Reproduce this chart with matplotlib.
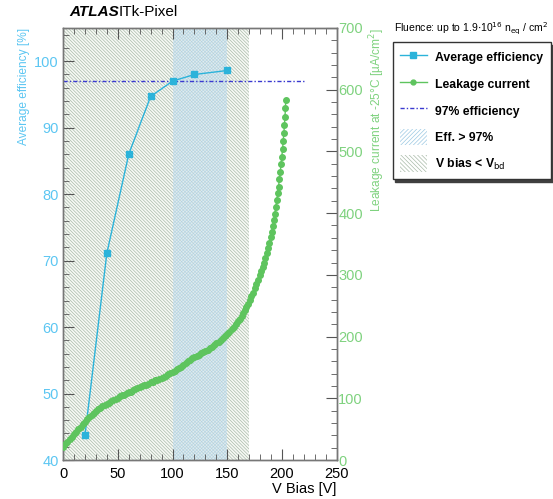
import numpy as np
import matplotlib
matplotlib.use("Agg")
import matplotlib.pyplot as plt
from matplotlib.patches import Patch
from matplotlib.lines import Line2D
from matplotlib.ticker import MultipleLocator

plt.rcParams['font.family'] = ['Liberation Sans', 'DejaVu Sans']
plt.rcParams['hatch.linewidth'] = 0.5

# average efficiency vs bias
eff_v = [20, 40, 60, 80, 100, 120, 150]
eff = [43.7, 71.1, 86.0, 94.7, 97.0, 98.0, 98.6]

# leakage current vs bias
leak_v = [0, 2, 4, 6, 8, 10, 12, 14, 16, 18, 20, 22, 24, 26, 28, 30, 32, 34, 36, 38,
          40, 42, 44, 46, 48, 50, 52, 54, 56, 58, 60, 62, 64, 66, 68, 70, 72, 74, 76, 78,
          80, 82, 84, 86, 88, 90, 92, 94, 96, 98, 100, 102, 104, 106, 108, 110, 112, 114, 116, 118,
          120, 122, 124, 126, 128, 130, 132, 134, 136, 138, 140, 142, 144, 146, 148, 150, 152, 154, 156, 158,
          160, 161.5, 163, 164.5, 166, 167.5, 169, 170.5, 172, 173.5, 175, 176.5, 178, 179.5, 181, 182.3, 183.6, 184.9, 186.1, 187.3,
          188.4, 189.5, 190.5, 191.5, 192.5, 193.4, 194.3, 195.2, 196.0, 196.8, 197.6, 198.4, 199.1, 199.8, 200.5, 201.1, 201.7, 202.2, 202.7, 203.1,
          203.4]
leak_i = [21, 26, 30, 34, 38, 42, 46, 50, 54, 58, 62, 66, 70, 73, 76, 79, 82, 85, 87, 89,
          91, 93, 95, 97, 99, 101, 103, 105, 106, 108, 110, 111, 113, 115, 116, 118, 120, 121, 122, 124,
          126, 127, 129, 130, 132, 133, 135, 137, 139, 141, 143, 145, 147, 149, 151, 154, 157, 160, 162, 165,
          167, 169, 171, 173, 175, 177, 179, 181, 183, 186, 189, 192, 195, 198, 201, 204, 208, 212, 216, 221,
          225, 229, 233, 238, 243, 248, 253, 259, 265, 271, 278, 285, 292, 299, 306, 313, 320, 328, 336, 344,
          352, 361, 370, 379, 389, 399, 410, 421, 432, 443, 455, 467, 479, 491, 504, 517, 530, 543, 556, 570,
          583]

eff_target = 97
eff_above = (100, 150)
below_bd = (0, 170)

c_eff = '#2bb3da'
c_eff_lab = '#5cc6f2'
c_leak = '#5ec45e'
c_leak_lab = '#7fd27f'
c_dash = '#3a3ad0'
c_hatch_g = '#a9bba9'
c_hatch_b = '#9cc9e3'

fig = plt.figure(figsize=(5.53, 4.99), dpi=100)
ax = fig.add_axes([0.114, 0.078, 0.495, 0.866])
ax2 = ax.twinx()

ax.axvspan(*below_bd, facecolor='#f7f9f5', edgecolor=c_hatch_g, hatch='\\' * 10, lw=0, zorder=0)
ax.axvspan(*eff_above, facecolor='#cfe4f0', alpha=0.6, edgecolor=c_hatch_b, hatch='/' * 10, lw=0, zorder=1)
ax.plot([0, 220], [eff_target, eff_target], color=c_dash, ls=(0, (3, 1.5, 1, 1.5)), lw=1, zorder=3)
ax.plot(eff_v, eff, '-s', color=c_eff, ms=4.5, lw=1, zorder=4)

ax2.plot(leak_v, leak_i, '-o', color=c_leak, ms=4, lw=1, zorder=4)

ax.set_xlim(0, 250)
ax.set_ylim(40, 105)
ax2.set_ylim(0, 700)
ax.xaxis.set_major_locator(MultipleLocator(50))
ax.xaxis.set_minor_locator(MultipleLocator(10))
ax.yaxis.set_major_locator(MultipleLocator(10))
ax.yaxis.set_minor_locator(MultipleLocator(2))
ax2.yaxis.set_major_locator(MultipleLocator(100))
ax2.yaxis.set_minor_locator(MultipleLocator(20))

ax.tick_params(axis='x', which='both', direction='in', top=True, labelsize=10.5, colors='#555555', labelcolor='black', pad=5)
ax.tick_params(axis='x', which='major', length=8)
ax.tick_params(axis='x', which='minor', length=4)
ax.tick_params(axis='y', which='both', direction='in', right=False, labelsize=10.5, colors='#555555', labelcolor=c_eff_lab, pad=3)
ax.tick_params(axis='y', which='major', length=8)
ax.tick_params(axis='y', which='minor', length=4)
ax2.tick_params(axis='y', which='both', direction='in', labelsize=10.5, colors='#555555', labelcolor=c_leak_lab, pad=1)
ax2.tick_params(axis='y', which='major', length=8)
ax2.tick_params(axis='y', which='minor', length=4)
for a in (ax, ax2):
    for s in a.spines.values():
        s.set_color('#777777')
        s.set_linewidth(1)

ax.set_xlabel('V Bias [V]', fontsize=10.5, ha='right', x=1.0, labelpad=1)
ax.set_ylabel('Average efficiency [%]', fontsize=8.6, color=c_eff_lab, ha='right', y=1.0, labelpad=3)
ax2.set_ylabel(u'Leakage current at -25\u00b0C [\u00b5A/cm$^2$]', fontsize=8.6, color=c_leak_lab,
               ha='right', y=1.0, labelpad=3)

fig.text(0.125, 0.962, 'ATLAS', fontsize=11, fontweight='bold', style='italic', va='bottom')
fig.text(0.214, 0.962, 'ITk-Pixel', fontsize=11, va='bottom')
fig.text(0.712, 0.926, r'Fluence: up to 1.9$\cdot$10$^{16}$ n$_{\rm eq}$ / cm$^2$', fontsize=7.5, va='bottom')

handles = [
    Line2D([], [], color=c_eff, marker='s', ms=4, lw=1),
    Line2D([], [], color=c_leak, marker='o', ms=3.5, lw=1),
    Line2D([], [], color=c_dash, ls=(0, (3, 1.5, 1, 1.5)), lw=1),
    Patch(facecolor='white', edgecolor=c_hatch_b, hatch='/' * 8, lw=0),
    Patch(facecolor='white', edgecolor=c_hatch_g, hatch='\\' * 8, lw=0),
]
labels = ['Average efficiency', 'Leakage current', '97% efficiency', 'Eff. > 97%', r'V bias < V$_{\rm bd}$']
leg = fig.legend(handles, labels, loc='upper left', bbox_to_anchor=(0.71, 0.916),
                 fancybox=False, shadow={'color': '0.25', 'alpha': 1}, edgecolor='#333333', framealpha=1,
                 prop={'weight': 'bold', 'size': 8.8}, handlelength=2.2, handleheight=1.7,
                 labelspacing=0.82, borderpad=0.6, handletextpad=0.7, borderaxespad=0)
leg.get_frame().set_linewidth(1)

fig.savefig('out.png', dpi=100)
